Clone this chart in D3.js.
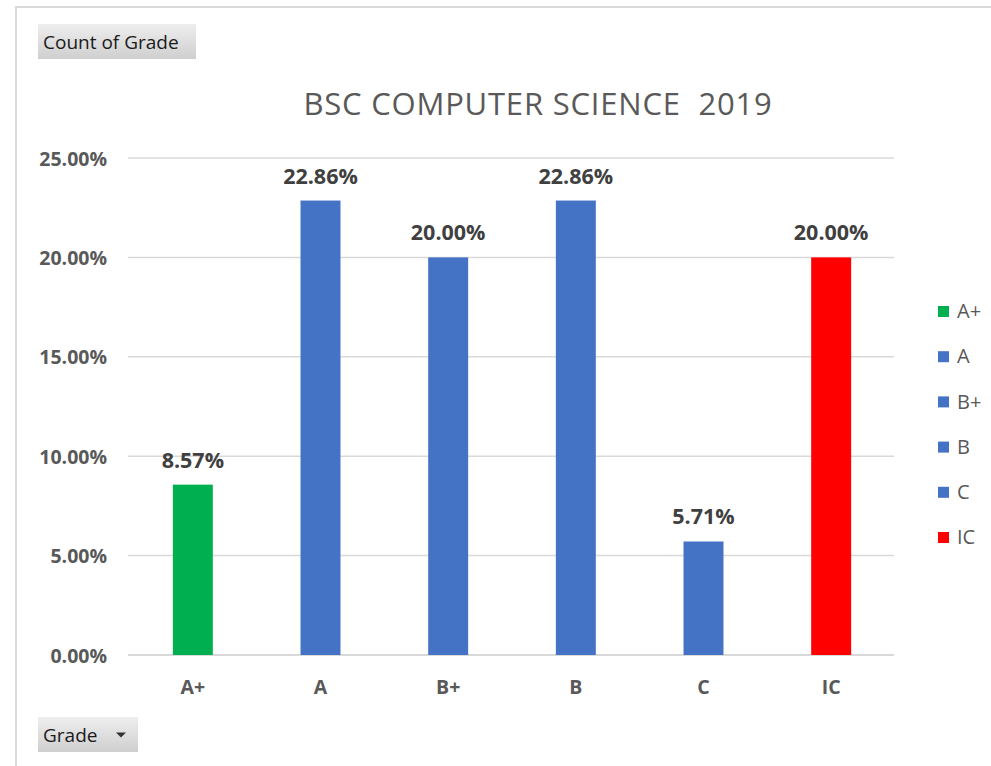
<!DOCTYPE html>
<html><head><meta charset="utf-8">
<script src="https://cdn.jsdelivr.net/npm/d3@7"></script>
<style>
html,body{margin:0;padding:0;background:#fff;}
svg{display:block;}
</style></head>
<body>
<svg id="c" width="991" height="766"></svg>
<script>
const categories = ["A+", "A", "B+", "B", "C", "IC"];
const values = [0.0857, 0.2286, 0.2000, 0.2286, 0.0571, 0.2000];
const barColors = ["#00b050", "#4472c4", "#4472c4", "#4472c4", "#4472c4", "#ff0000"];
const yTicks = [0, 0.05, 0.10, 0.15, 0.20, 0.25];
const title = "BSC COMPUTER SCIENCE  2019";

const font = "Open Sans, Calibri, Carlito, sans-serif";
const svg = d3.select("#c");

// frame
svg.append("line").attr("x1",16).attr("x2",991).attr("y1",7).attr("y2",7).attr("stroke","#d9d9d9").attr("stroke-width",2);
svg.append("line").attr("x1",16).attr("x2",16).attr("y1",6).attr("y2",766).attr("stroke","#d9d9d9").attr("stroke-width",2);

// gradient for buttons
const defs = svg.append("defs");
const g = defs.append("linearGradient").attr("id","btn").attr("x1",0).attr("y1",0).attr("x2",0).attr("y2",1);
g.append("stop").attr("offset","0%").attr("stop-color","#eeeeee");
g.append("stop").attr("offset","100%").attr("stop-color","#cfcfcf");

function button(x, y, w, h, text, arrow){
  svg.append("rect").attr("x",x).attr("y",y).attr("width",w).attr("height",h).attr("fill","url(#btn)");
  svg.append("text").attr("x",x+5).attr("y",y+h/2+7).attr("font-family",font).attr("font-size",19)
    .attr("fill","#1a1a1a").text(text);
  if(arrow){
    const ax = x+w-17, ay = y+h/2;
    svg.append("path").attr("d",`M${ax-5},${ay-2}L${ax+5},${ay-2}L${ax},${ay+3}Z`).attr("fill","#333");
  }
}
button(38,24,158,35,"Count of Grade",false);
button(38,717,100,35,"Grade",true);

const x = d3.scaleBand().domain(categories).range([129,895]).paddingInner(0.687).paddingOuter(0.3435);
const y = d3.scaleLinear().domain([0,0.25]).range([655,158]);

// gridlines
svg.append("g").selectAll("line").data(yTicks).join("line")
  .attr("x1",128).attr("x2",894).attr("y1",d=>y(d)).attr("y2",d=>y(d))
  .attr("stroke","#d9d9d9").attr("stroke-width",d=>d===0?2:1.5);

// y axis labels
const yAxis = d3.axisLeft(y).tickValues(yTicks).tickFormat(d=>(d*100).toFixed(2)+"%").tickSize(0).tickPadding(0);
const ya = svg.append("g").attr("transform","translate(107,0)").call(yAxis);
ya.select(".domain").remove();
ya.selectAll("text").attr("font-family",font).attr("font-size",19.5).attr("font-weight","bold").attr("fill","#595959").attr("dy","0.36em");

// x axis labels
const xAxis = d3.axisBottom(x).tickSize(0).tickPadding(0);
const xa = svg.append("g").attr("transform","translate(0,694)").call(xAxis);
xa.select(".domain").remove();
xa.selectAll("text").attr("font-family",font).attr("font-size",19.5).attr("font-weight","bold").attr("fill","#595959").attr("dy",0);

// bars
svg.append("g").selectAll("rect").data(values).join("rect")
  .attr("x",(d,i)=>x(categories[i])).attr("width",x.bandwidth())
  .attr("y",d=>y(d)).attr("height",d=>y(0)-y(d)).attr("fill",(d,i)=>barColors[i]);

// data labels
svg.append("g").selectAll("text").data(values).join("text")
  .attr("x",(d,i)=>x(categories[i])+x.bandwidth()/2).attr("y",d=>y(d)-17)
  .attr("text-anchor","middle").attr("font-family",font).attr("font-size",21.5).attr("font-weight","bold")
  .attr("fill","#404040").text(d=>(d*100).toFixed(2)+"%");

// title
svg.append("text").attr("x",538).attr("y",115).attr("text-anchor","middle").attr("font-family",font)
  .attr("font-size",31).attr("letter-spacing",0.8).attr("fill","#595959").style("white-space","pre").text(title);

// legend
const lg = svg.append("g").selectAll("g").data(categories).join("g")
  .attr("transform",(d,i)=>`translate(938,${311+i*45.2})`);
lg.append("rect").attr("x",0).attr("y",-5).attr("width",11).attr("height",11).attr("fill",(d,i)=>barColors[i]);
lg.append("text").attr("x",19).attr("y",0).attr("dy","0.36em").attr("font-family",font).attr("font-size",20)
  .attr("fill","#595959").text(d=>d);
</script>
</body></html>
